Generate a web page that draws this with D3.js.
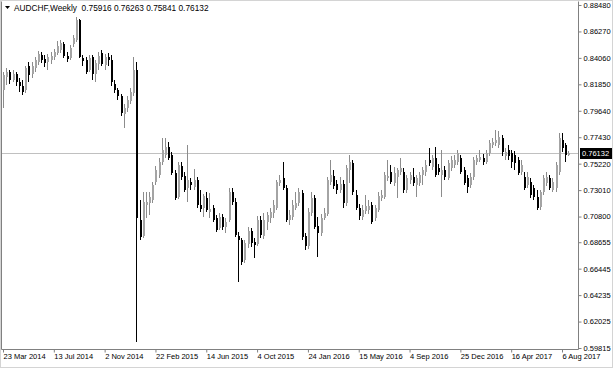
<!doctype html>
<html lang="en">
<head>
  <meta charset="utf-8">
  <script src="https://d3js.org/d3.v7.min.js"></script>
  <style>
    body { margin: 0; background: #fff; }
    text { font-family: "Liberation Sans", Arial, sans-serif; }
  </style>
</head>
<body>
<script>
  var width = 613,
      height = 368;

  // weekly AUDCHF bars, first bar = week of 23 Mar 2014
  var opens = [
    0.8138, 0.8246, 0.8288, 0.8221, 0.8271, 0.8204, 0.8171, 0.8138, 0.8338, 0.8271,
    0.8322, 0.8372, 0.8430, 0.8397, 0.8372, 0.8388, 0.8414, 0.8447, 0.8472, 0.8522,
    0.8422, 0.8405, 0.8522, 0.8556, 0.8723, 0.8405, 0.8388, 0.8305, 0.8414, 0.8271,
    0.8355, 0.8447, 0.8347, 0.8414, 0.8388, 0.8188, 0.8138, 0.8087, 0.7937, 0.7987,
    0.8046, 0.8112, 0.8305, 0.7051, 0.6917, 0.7176, 0.7193, 0.7218, 0.7369, 0.7427,
    0.7536, 0.7594, 0.7661, 0.7594, 0.7444, 0.7243, 0.7502, 0.7419, 0.7318, 0.7369,
    0.7327, 0.7385, 0.7176, 0.7151, 0.7235, 0.7118, 0.7151, 0.7067, 0.6984, 0.7076,
    0.6992, 0.7051, 0.7285, 0.7201, 0.6917, 0.6884, 0.6716, 0.6850, 0.6959, 0.6867,
    0.6850, 0.7051, 0.6917, 0.7034, 0.7067, 0.7109, 0.7151, 0.7360, 0.7402, 0.7318,
    0.7051, 0.7076, 0.7151, 0.7193, 0.7277, 0.6917, 0.6834, 0.7109, 0.7235, 0.7001,
    0.6942, 0.7067, 0.7101, 0.7369, 0.7419, 0.7352, 0.7302, 0.7352, 0.7193, 0.7469,
    0.7527, 0.7260, 0.7151, 0.7076, 0.7126, 0.7134, 0.7176, 0.7067, 0.7134, 0.7235,
    0.7243, 0.7402, 0.7452, 0.7360, 0.7410, 0.7452, 0.7452, 0.7302, 0.7385, 0.7410,
    0.7344, 0.7360, 0.7427, 0.7452, 0.7552, 0.7494, 0.7569, 0.7486, 0.7427, 0.7469,
    0.7402, 0.7486, 0.7511, 0.7536, 0.7569, 0.7469, 0.7402, 0.7344, 0.7410, 0.7536,
    0.7552, 0.7569, 0.7536, 0.7611, 0.7678, 0.7695, 0.7678, 0.7737, 0.7586, 0.7636,
    0.7611, 0.7594, 0.7552, 0.7452, 0.7410, 0.7344, 0.7369, 0.7318, 0.7243, 0.7160,
    0.7285, 0.7360, 0.7402, 0.7302, 0.7318, 0.7452, 0.7720, 0.7678, 0.75916
  ];
  var highs = [
    0.8288, 0.8322, 0.8305, 0.8305, 0.8288, 0.8238, 0.8221, 0.8338, 0.8372, 0.8372,
    0.8414, 0.8464, 0.8455, 0.8430, 0.8439, 0.8455, 0.8480, 0.8547, 0.8556, 0.8539,
    0.8455, 0.8514, 0.8597, 0.8748, 0.8731, 0.8430, 0.8414, 0.8430, 0.8430, 0.8388,
    0.8455, 0.8472, 0.8439, 0.8447, 0.8430, 0.8221, 0.8154, 0.8104, 0.8021, 0.8087,
    0.8154, 0.8414, 0.8372, 0.7218, 0.7285, 0.7285, 0.7285, 0.7369, 0.7502, 0.7569,
    0.7737, 0.7737, 0.7703, 0.7619, 0.7469, 0.7536, 0.7536, 0.7452, 0.7678, 0.7402,
    0.7477, 0.7410, 0.7302, 0.7268, 0.7285, 0.7277, 0.7176, 0.7093, 0.7109, 0.7101,
    0.7067, 0.7318, 0.7318, 0.7235, 0.6950, 0.6900, 0.6884, 0.6992, 0.6984, 0.6900,
    0.7084, 0.7084, 0.7109, 0.7118, 0.7151, 0.7218, 0.7385, 0.7427, 0.7536, 0.7344,
    0.7134, 0.7218, 0.7285, 0.7318, 0.7302, 0.6942, 0.7151, 0.7285, 0.7260, 0.7076,
    0.7101, 0.7151, 0.7410, 0.7552, 0.7469, 0.7385, 0.7410, 0.7385, 0.7511, 0.7594,
    0.7552, 0.7302, 0.7185, 0.7176, 0.7260, 0.7218, 0.7201, 0.7176, 0.7285, 0.7302,
    0.7452, 0.7552, 0.7511, 0.7494, 0.7486, 0.7569, 0.7486, 0.7427, 0.7452, 0.7486,
    0.7427, 0.7452, 0.7494, 0.7552, 0.7653, 0.7594, 0.7661, 0.7519, 0.7636, 0.7502,
    0.7552, 0.7586, 0.7594, 0.7636, 0.7594, 0.7494, 0.7427, 0.7444, 0.7577, 0.7594,
    0.7636, 0.7603, 0.7636, 0.7720, 0.7737, 0.7803, 0.7795, 0.7762, 0.7653, 0.7678,
    0.7636, 0.7628, 0.7577, 0.7552, 0.7452, 0.7452, 0.7402, 0.7344, 0.7302, 0.7302,
    0.7427, 0.7452, 0.7427, 0.7402, 0.7536, 0.7778, 0.7778, 0.7695, 0.76263
  ];
  var lows = [
    0.7987, 0.8179, 0.8188, 0.8204, 0.8171, 0.8121, 0.8096, 0.8112, 0.8204, 0.8238,
    0.8288, 0.8347, 0.8363, 0.8330, 0.8305, 0.8355, 0.8388, 0.8430, 0.8447, 0.8405,
    0.8372, 0.8388, 0.8497, 0.8539, 0.8405, 0.8338, 0.8271, 0.8288, 0.8221, 0.8204,
    0.8305, 0.8338, 0.8305, 0.8338, 0.8171, 0.8112, 0.8054, 0.7920, 0.7820, 0.7954,
    0.8021, 0.8087, 0.6031, 0.6884, 0.6900, 0.7067, 0.7093, 0.7193, 0.7344, 0.7402,
    0.7511, 0.7569, 0.7552, 0.7427, 0.7218, 0.7226, 0.7385, 0.7285, 0.7201, 0.7302,
    0.7302, 0.7151, 0.7118, 0.7076, 0.7118, 0.7067, 0.7034, 0.6950, 0.6967, 0.6967,
    0.6942, 0.7034, 0.7176, 0.6909, 0.6532, 0.6675, 0.6691, 0.6817, 0.6825, 0.6733,
    0.6834, 0.6900, 0.6892, 0.6967, 0.7026, 0.7067, 0.7134, 0.7335, 0.7302, 0.7034,
    0.7009, 0.7051, 0.7134, 0.7168, 0.6884, 0.6800, 0.6808, 0.7084, 0.6976, 0.6741,
    0.6917, 0.7051, 0.7084, 0.7344, 0.7310, 0.7268, 0.7277, 0.7151, 0.7168, 0.7360,
    0.7260, 0.7134, 0.7051, 0.7051, 0.7101, 0.7101, 0.7017, 0.7042, 0.7118, 0.7210,
    0.7226, 0.7377, 0.7352, 0.7335, 0.7235, 0.7427, 0.7277, 0.7277, 0.7352, 0.7335,
    0.7243, 0.7335, 0.7344, 0.7419, 0.7502, 0.7469, 0.7410, 0.7427, 0.7243, 0.7385,
    0.7385, 0.7460, 0.7486, 0.7511, 0.7435, 0.7344, 0.7277, 0.7318, 0.7385, 0.7511,
    0.7536, 0.7511, 0.7519, 0.7586, 0.7653, 0.7670, 0.7653, 0.7586, 0.7552, 0.7552,
    0.7486, 0.7469, 0.7427, 0.7427, 0.7302, 0.7318, 0.7235, 0.7218, 0.7134, 0.7134,
    0.7260, 0.7335, 0.7302, 0.7285, 0.7285, 0.7427, 0.7619, 0.7536, 0.75841
  ];
  var closes = [
    0.8263, 0.8288, 0.8221, 0.8271, 0.8204, 0.8171, 0.8121, 0.8322, 0.8263, 0.8338,
    0.8388, 0.8439, 0.8388, 0.8363, 0.8414, 0.8422, 0.8455, 0.8505, 0.8530, 0.8422,
    0.8397, 0.8489, 0.8572, 0.8723, 0.8414, 0.8380, 0.8288, 0.8405, 0.8271, 0.8363,
    0.8422, 0.8355, 0.8414, 0.8388, 0.8204, 0.8138, 0.8087, 0.7945, 0.7987, 0.8054,
    0.8121, 0.8305, 0.7067, 0.6909, 0.7201, 0.7201, 0.7243, 0.7344, 0.7469, 0.7536,
    0.7636, 0.7661, 0.7569, 0.7444, 0.7235, 0.7511, 0.7410, 0.7302, 0.7385, 0.7344,
    0.7385, 0.7176, 0.7143, 0.7251, 0.7134, 0.7143, 0.7051, 0.6967, 0.7076, 0.6992,
    0.7034, 0.7285, 0.7201, 0.6925, 0.6884, 0.6700, 0.6859, 0.6959, 0.6859, 0.6842,
    0.7051, 0.6925, 0.7051, 0.7093, 0.7118, 0.7176, 0.7369, 0.7385, 0.7318, 0.7051,
    0.7093, 0.7176, 0.7193, 0.7285, 0.6909, 0.6834, 0.7118, 0.7235, 0.6992, 0.6942,
    0.7067, 0.7109, 0.7385, 0.7427, 0.7335, 0.7302, 0.7352, 0.7193, 0.7486, 0.7536,
    0.7285, 0.7151, 0.7084, 0.7134, 0.7168, 0.7168, 0.7034, 0.7151, 0.7251, 0.7260,
    0.7427, 0.7419, 0.7369, 0.7444, 0.7469, 0.7486, 0.7302, 0.7402, 0.7427, 0.7360,
    0.7402, 0.7427, 0.7469, 0.7511, 0.7527, 0.7569, 0.7427, 0.7452, 0.7469, 0.7410,
    0.7527, 0.7552, 0.7552, 0.7611, 0.7452, 0.7360, 0.7327, 0.7410, 0.7552, 0.7569,
    0.7577, 0.7536, 0.7611, 0.7695, 0.7703, 0.7720, 0.7745, 0.7619, 0.7619, 0.7586,
    0.7536, 0.7527, 0.7444, 0.7511, 0.7318, 0.7410, 0.7260, 0.7243, 0.7151, 0.7285,
    0.7402, 0.7410, 0.7318, 0.7369, 0.7511, 0.7737, 0.7653, 0.7592, 0.76132
  ];

  var priceTicks = [0.88480, 0.86270, 0.84060, 0.81850, 0.79640, 0.77430, 0.75220,
                    0.73010, 0.70800, 0.68655, 0.66445, 0.64235, 0.62025, 0.59815];
  var dateTicks = ["23 Mar 2014", "13 Jul 2014", "2 Nov 2014", "22 Feb 2015", "14 Jun 2015",
                   "4 Oct 2015", "24 Jan 2016", "15 May 2016", "4 Sep 2016", "25 Dec 2016",
                   "16 Apr 2017", "6 Aug 2017"];
  var weeksPerLabel = 16;
  var quote = [0.75916, 0.76263, 0.75841, 0.76132];   // open high low close of last bar

  var plotRight = 578, plotBottom = 349;

  var svg = d3.select("body").append("svg")
      .attr("width", width)
      .attr("height", height)
      .style("display", "block");

  // outer light border
  svg.append("rect")
      .attr("x", 0.5).attr("y", 0.5)
      .attr("width", width - 1).attr("height", height - 1)
      .attr("fill", "#fff").attr("stroke", "#d4d4d4");

  // bar index -> x, price -> y
  var x = d3.scaleLinear().domain([0, 176]).range([3, 562]);
  var y = d3.scaleLinear().domain([0.59815, 0.88480]).range([348, 5]);

  // plot frame
  svg.append("path")
      .attr("d", "M1.5,1.5V" + (plotBottom + 0.5) + "H" + (plotRight + 0.5) + "V1.5")
      .attr("fill", "none").attr("stroke", "#808080");

  // current price line
  var last = closes[closes.length - 1];
  svg.append("line")
      .attr("x1", 2).attr("x2", plotRight)
      .attr("y1", Math.round(y(last)) + 0.5).attr("y2", Math.round(y(last)) + 0.5)
      .attr("stroke", "#c0c0c0");

  var bars = d3.range(opens.length).map(function(i) {
    return { i: i, o: opens[i], h: highs[i], l: lows[i], c: closes[i] };
  });

  var candle = svg.append("g").attr("shape-rendering", "crispEdges")
    .selectAll("g").data(bars).enter().append("g");

  candle.append("line")
      .attr("x1", function(d) { return Math.round(x(d.i)) + 0.5; })
      .attr("x2", function(d) { return Math.round(x(d.i)) + 0.5; })
      .attr("y1", function(d) { return y(d.h); })
      .attr("y2", function(d) { return y(d.l); })
      .attr("stroke", function(d) { return d.c >= d.o ? "#8c8c8c" : "#000"; });

  candle.append("rect")
      .attr("x", function(d) { return Math.round(x(d.i)); })
      .attr("width", 2)
      .attr("y", function(d) { return y(Math.max(d.o, d.c)); })
      .attr("height", function(d) { return Math.max(1, Math.abs(y(d.o) - y(d.c))); })
      .attr("fill", function(d) { return d.c >= d.o ? "#a4a4a4" : "#000"; });

  // price axis
  var yAxis = svg.append("g")
      .attr("transform", "translate(" + (plotRight + 0.5) + ",0)")
      .call(d3.axisRight(y).tickValues(priceTicks).tickFormat(d3.format(".5f")).tickSize(3).tickPadding(2));
  yAxis.select(".domain").remove();
  yAxis.selectAll("line").attr("stroke", "#808080");
  yAxis.selectAll("text").attr("font-size", "7.5px").attr("fill", "#000")
      .attr("font-family", "Liberation Sans, Arial, sans-serif");

  // time axis
  var xAxis = svg.append("g")
      .attr("transform", "translate(0," + (plotBottom + 0.5) + ")")
      .call(d3.axisBottom(x)
        .tickValues(d3.range(0, dateTicks.length * weeksPerLabel, weeksPerLabel))
        .tickFormat(function(d, i) { return dateTicks[i]; })
        .tickSize(3));
  xAxis.select(".domain").remove();
  xAxis.selectAll("line").attr("stroke", "#808080");
  xAxis.selectAll("text")
      .attr("font-size", "7.5px").attr("fill", "#000")
      .attr("font-family", "Liberation Sans, Arial, sans-serif")
      .attr("text-anchor", "start").attr("x", 0).attr("y", 4);

  // last price label
  var ly = Math.round(y(last));
  svg.append("rect")
      .attr("x", plotRight + 2).attr("y", ly - 5)
      .attr("width", 32).attr("height", 11)
      .attr("fill", "#000");
  svg.append("text")
      .attr("x", plotRight + 4).attr("y", ly + 3)
      .attr("font-size", "7.5px").attr("fill", "#fff")
      .text(last.toFixed(5));

  // header
  svg.append("path")
      .attr("d", "M5,6H10L7.5,9Z")
      .attr("fill", "#000");
  svg.append("text")
      .attr("x", 14).attr("y", 11)
      .attr("font-size", "8.3px").attr("fill", "#000")
      .text("AUDCHF,Weekly  " + quote.map(function(v) { return v.toFixed(5); }).join(" "))
      .attr("xml:space", "preserve").style("white-space", "pre");
</script>
</body>
</html>
